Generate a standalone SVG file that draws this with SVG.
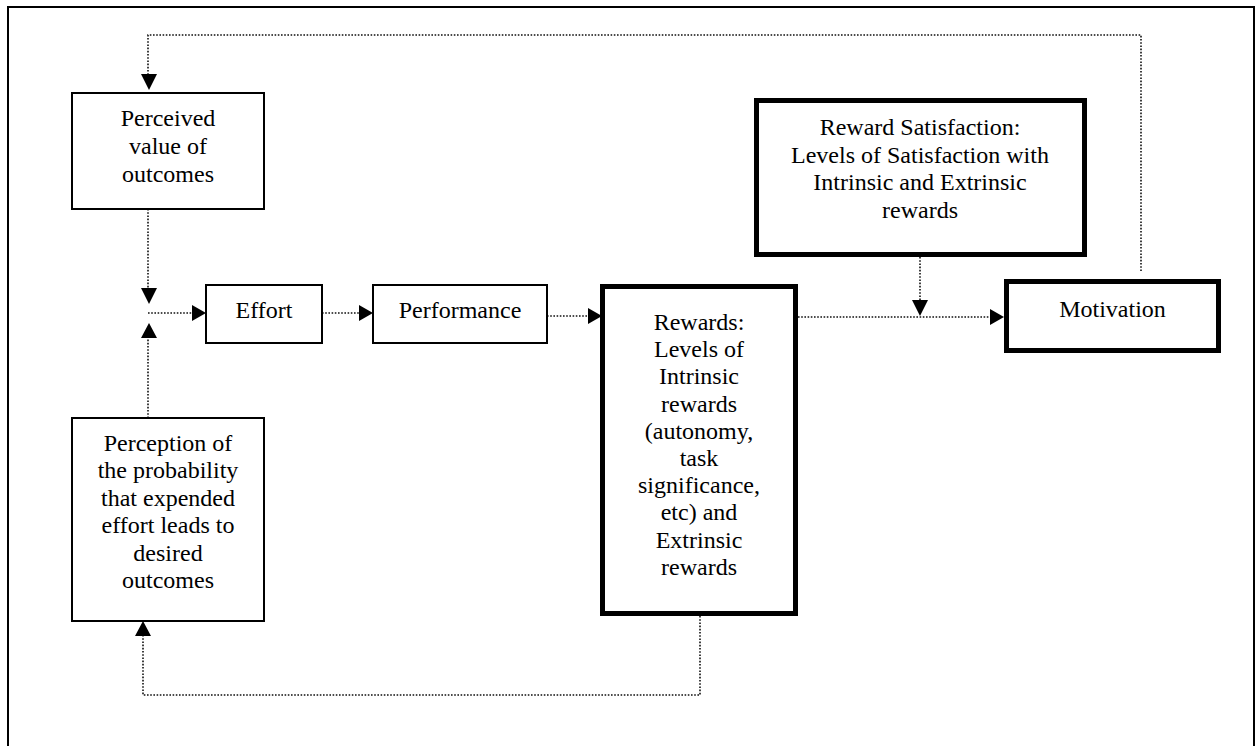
<svg xmlns="http://www.w3.org/2000/svg" width="1256" height="746" viewBox="0 0 1256 746">
<style>
text{font-family:"Liberation Serif","Times New Roman",serif;font-size:24px;fill:#000;text-anchor:middle}
.thin{fill:#fff;stroke:#000;stroke-width:2}
.thick{fill:#fff;stroke:#000;stroke-width:5}
.dot{fill:none;stroke:#111;stroke-width:1.6;stroke-dasharray:1.6 1.6}
.ah{fill:#000}
</style>
<rect x="8" y="7" width="1246" height="800" fill="#fff" stroke="#000" stroke-width="2"/>
<g id="connectors">
<path class="dot" d="M1141,271 V35 H148 V75"/>
<polygon class="ah" points="141,74 157,74 149,90"/>
<path class="dot" d="M148,209 V288"/>
<polygon class="ah" points="141,288 157,288 149,304"/>
<path class="dot" d="M148,418 V338"/>
<polygon class="ah" points="141,338 157,338 149,323"/>
<path class="dot" d="M148,313 H192"/>
<polygon class="ah" points="192,305 192,321 206,313"/>
<path class="dot" d="M322,313 H359"/>
<polygon class="ah" points="359,305 359,321 373,313"/>
<path class="dot" d="M547,316 H588"/>
<polygon class="ah" points="588,308 588,324 602,316"/>
<path class="dot" d="M798,317 H990"/>
<polygon class="ah" points="990,309 990,325 1004,317"/>
<path class="dot" d="M920,257 V300"/>
<polygon class="ah" points="912,300 928,300 920,316"/>
<path class="dot" d="M700,616 V695 H143 V636"/>
<polygon class="ah" points="135,636 151,636 143,621"/>
</g>
<g id="perceived">
<rect class="thin" x="72" y="93" width="192" height="116"/>
<text x="168" y="126">Perceived</text>
<text x="168" y="154">value of</text>
<text x="168" y="182">outcomes</text>
</g>
<g id="effort">
<rect class="thin" x="206" y="285" width="116" height="58"/>
<text x="264" y="318">Effort</text>
</g>
<g id="performance">
<rect class="thin" x="373" y="285" width="174" height="58"/>
<text x="460" y="318">Performance</text>
</g>
<g id="rewards">
<rect class="thick" x="602.5" y="286.5" width="193" height="327"/>
<text x="699" y="330">Rewards:</text>
<text x="699" y="357.2">Levels of</text>
<text x="699" y="384.4">Intrinsic</text>
<text x="699" y="411.6">rewards</text>
<text x="699" y="438.8">(autonomy,</text>
<text x="699" y="466">task</text>
<text x="699" y="493.2">significance,</text>
<text x="699" y="520.4">etc) and</text>
<text x="699" y="547.6">Extrinsic</text>
<text x="699" y="574.8">rewards</text>
</g>
<g id="reward-satisfaction">
<rect class="thick" x="756.5" y="100.5" width="328" height="154"/>
<text x="920" y="135">Reward Satisfaction:</text>
<text x="920" y="162.5">Levels of Satisfaction with</text>
<text x="920" y="190">Intrinsic and Extrinsic</text>
<text x="920" y="217.5">rewards</text>
</g>
<g id="motivation">
<rect class="thick" x="1006.5" y="281.5" width="212" height="69"/>
<text x="1112.5" y="317">Motivation</text>
</g>
<g id="perception">
<rect class="thin" x="72" y="418" width="192" height="203"/>
<text x="168" y="451">Perception of</text>
<text x="168" y="478.4">the probability</text>
<text x="168" y="505.8">that expended</text>
<text x="168" y="533.2">effort leads to</text>
<text x="168" y="560.6">desired</text>
<text x="168" y="588">outcomes</text>
</g>
</svg>
